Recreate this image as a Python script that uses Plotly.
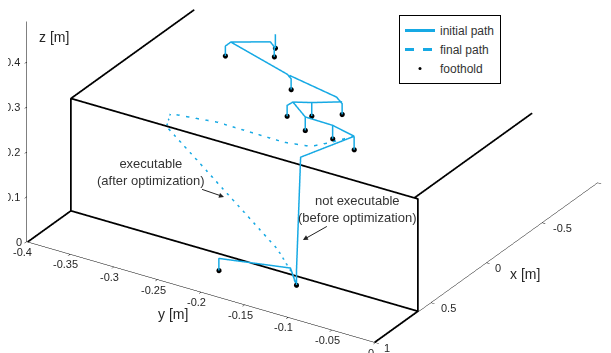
import plotly.graph_objects as go

# ---------------- data (metres) ----------------
# footholds
foot_x = [-0.367, -0.168, -0.287, -0.038, 0.052, 0.210, 0.145, 0.290, 0.294, 0.336, 0.761, 0.691]
foot_y = [-0.289, -0.321, -0.280, -0.229, -0.159, -0.202, -0.182, -0.171, -0.139, -0.109, -0.210, -0.130]
foot_z = [0.25, 0.25, 0.25, 0.25, 0.25, 0.25, 0.25, 0.25, 0.25, 0.25, 0.0, 0.0]

# initial path (polylines separated by None)
init_x = [-0.367, -0.367, None,
          -0.168, -0.168, -0.186, -0.290, -0.287, -0.287, None,
          -0.186, -0.044, -0.038, -0.038, None,
          -0.040, 0.032, 0.052, 0.052, None,
          0.210, 0.210, 0.189, 0.145, 0.052, None,
          0.145, 0.145, None,
          0.189, 0.290, 0.294, 0.336, None,
          0.290, 0.290, None,
          0.294, 0.294, None,
          0.336, 0.336, None,
          0.336, 0.661, 0.690, 0.691, None,
          0.761, 0.761, 0.674, 0.691]
init_y = [-0.289, -0.289, None,
          -0.321, -0.321, -0.317, -0.285, -0.280, -0.280, None,
          -0.317, -0.234, -0.229, -0.229, None,
          -0.231, -0.168, -0.159, -0.159, None,
          -0.202, -0.202, -0.198, -0.182, -0.159, None,
          -0.182, -0.182, None,
          -0.198, -0.171, -0.139, -0.109, None,
          -0.171, -0.171, None,
          -0.139, -0.139, None,
          -0.109, -0.109, None,
          -0.109, -0.129, -0.130, -0.130, None,
          -0.210, -0.210, -0.139, -0.130]
init_z = [0.25, 0.281, None,
          0.25, 0.272, 0.28, 0.28, 0.272, 0.25, None,
          0.28, 0.28, 0.274, 0.25, None,
          0.28, 0.28, 0.274, 0.25, None,
          0.25, 0.274, 0.28, 0.28, 0.278, None,
          0.28, 0.25, None,
          0.28, 0.28, 0.28, 0.28, None,
          0.28, 0.25, None,
          0.28, 0.25, None,
          0.28, 0.25, None,
          0.28, 0.28, 0.035, 0.0, None,
          0.0, 0.027, 0.03, 0.0]

# final (optimized) path
fin_x = [0.336, 0.466, 0.539, 0.571, 0.564, 0.609, 0.613, 0.698, 0.701, 0.691]
fin_y = [-0.109, -0.123, -0.133, -0.160, -0.237, -0.285, -0.289, -0.151, -0.135, -0.130]
fin_z = [0.28, 0.28, 0.28, 0.28, 0.28, 0.28, 0.25, 0.07, 0.03, 0.0]

# step (terrain) outline: front face + edges
step_x = [0.61, 0.61, 0.61, 0.61, 0.61, None, 0.61, -0.5, None, 0.61, 1.0, None, 0.61, 1.0]
step_y = [-0.399, -0.399, -0.001, -0.001, -0.399, None, -0.399, -0.399, None,
          -0.399, -0.399, None, -0.001, -0.001]
step_z = [0.0, 0.25, 0.25, 0.0, 0.0, None, 0.25, 0.25, None, 0.0, 0.0, None, 0.0, 0.0]
# right upper edge of the step
edge_x = [0.61, 0.2, -0.2, -0.45]
edge_y = [-0.005, -0.005, -0.005, -0.005]
edge_z = [0.25, 0.25, 0.25, 0.25]

# ticks
x_ticks = [-1, -0.5, 0, 0.5, 1]
x_labels = ["-1", "-0.5", "0", "0.5", "1"]
y_ticks = [-0.4, -0.35, -0.3, -0.25, -0.2, -0.15, -0.1, -0.05, 0]
y_labels = ["-0.4", "-0.35", "-0.3", "-0.25", "-0.2", "-0.15", "-0.1", "-0.05", "0"]
z_ticks = [0, 0.1, 0.2, 0.3, 0.4]
z_labels = ["0", "0.1", "0.2", "0.3", "0.4"]

CYAN = "#16A9E4"
FONT = "Liberation Sans"
TICK_FONT = dict(family=FONT, size=11, color="#262626")
LABEL_FONT = dict(family=FONT, size=14, color="#262626")

fig = go.Figure()
fig.add_trace(go.Scatter3d(x=step_x, y=step_y, z=step_z, mode="lines",
                           line=dict(color="black", width=3.5), showlegend=False, hoverinfo="skip"))
fig.add_trace(go.Scatter3d(x=edge_x, y=edge_y, z=edge_z, mode="lines",
                           line=dict(color="black", width=3.5), showlegend=False, hoverinfo="skip"))
fig.add_trace(go.Scatter3d(x=init_x, y=init_y, z=init_z, mode="lines", name="initial path",
                           line=dict(color=CYAN, width=3)))
fig.add_trace(go.Scatter3d(x=fin_x, y=fin_y, z=fin_z, mode="lines", name="final path",
                           line=dict(color=CYAN, width=3, dash="dash")))
fig.add_trace(go.Scatter3d(x=foot_x, y=foot_y, z=foot_z, mode="markers", name="foothold",
                           marker=dict(color="black", size=3)))

axis_common = dict(showbackground=False, showgrid=False, zeroline=False, showspikes=False,
                   showline=True, linecolor="black", linewidth=1, ticks="outside", ticklen=4,
                   tickcolor="black", showticklabels=False, title=dict(text=""))

# tick labels drawn as scene annotations (centred, shifted left of the z axis)
tick_anns = []
for v, t in zip(z_ticks, z_labels):
    tick_anns.append(dict(x=1, y=-0.4, z=v, text=t, showarrow=False, xanchor="center",
                          yanchor="middle", xshift=-5 - 3.1 * len(t), font=TICK_FONT))
for v, t in zip(y_ticks, y_labels):
    tick_anns.append(dict(x=1, y=v, z=0, text=t, showarrow=False, xanchor="center",
                          yanchor="middle", xshift=-4.5, yshift=-10, font=TICK_FONT))
for v, t in zip(x_ticks, x_labels):
    tick_anns.append(dict(x=v, y=0, z=0, text=t, showarrow=False, xanchor="center",
                          yanchor="middle", xshift=8 + 3.1 * len(t), yshift=-5.5, font=TICK_FONT))

V = (0.7515, 0.4767, 0.4564)
C = (0.0792, 0.0339, -0.1658)
K = 2.35
DC = (-0.0104, 0.0407, -0.0254)
R = 4.0
cen = (C[0] * K + DC[0], C[1] * K + DC[1], C[2] * K + DC[2])

ann_font = dict(family=FONT, size=13, color="#333333")
fig.update_layout(
    width=611, height=353, margin=dict(l=0, r=0, t=0, b=0),
    paper_bgcolor="white",
    font=dict(family=FONT),
    scene=dict(
        domain=dict(x=[0, 1], y=[0, 1]),
        xaxis=dict(range=[-1, 1], tickvals=x_ticks, **axis_common),
        yaxis=dict(range=[-0.4, 0], tickvals=y_ticks, **axis_common),
        zaxis=dict(range=[0, 0.49], tickvals=z_ticks, **axis_common),
        aspectmode="manual",
        aspectratio=dict(x=1.0 * K, y=0.9955 * K, z=0.5966 * K),
        camera=dict(projection=dict(type="orthographic"),
                    up=dict(x=0, y=0, z=1),
                    center=dict(x=cen[0], y=cen[1], z=cen[2]),
                    eye=dict(x=cen[0] + R * V[0], y=cen[1] + R * V[1], z=cen[2] + R * V[2])),
        annotations=tick_anns + [
            dict(x=0.692, y=-0.213, z=0.15, text="executable<br>(after optimization)",
                 showarrow=True, ax=-73, ay=-25, arrowhead=2, arrowsize=1, arrowwidth=1,
                 arrowcolor="#222222", font=ann_font),
            dict(x=0.672, y=-0.125, z=0.10, text="not executable<br>(before optimization)",
                 showarrow=True, ax=55, ay=-31, arrowhead=2, arrowsize=1, arrowwidth=1,
                 arrowcolor="#222222", font=ann_font),
            dict(x=1, y=-0.4, z=0.456, text="z [m]", showarrow=False, xshift=27, font=LABEL_FONT),
            dict(x=1, y=-0.232, z=0, text="y [m]", showarrow=False, yshift=-30, font=LABEL_FONT),
            dict(x=0, y=0, z=0, text="x [m]", showarrow=False, xshift=38, yshift=-11, font=LABEL_FONT),
        ],
    ),
    legend=dict(x=391 / 611, y=1 - 7 / 353, xanchor="left", yanchor="top",
                bordercolor="black", borderwidth=1, bgcolor="white", itemwidth=30,
                font=dict(family=FONT, size=12, color="#333333")),
    hovermode=False,
)

fig.write_html("out.html", config={"displayModeBar": False})
